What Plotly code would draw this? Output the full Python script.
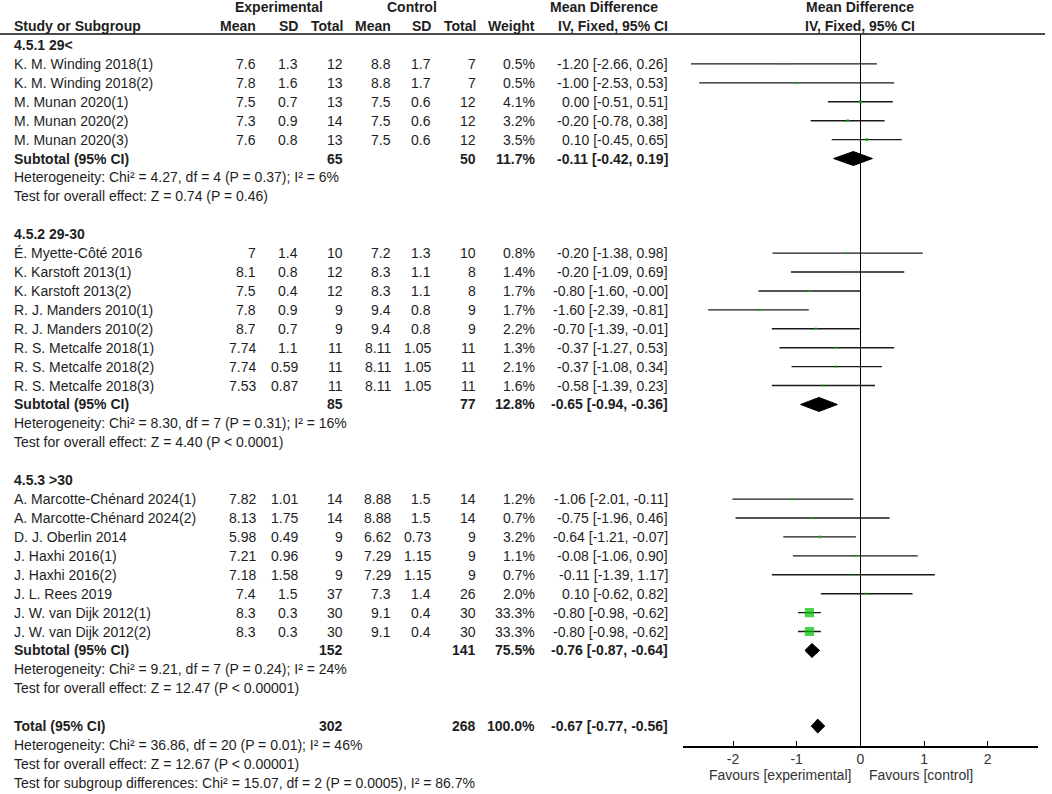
import plotly.graph_objects as go

# ---- data ----
group_labels = ["4.5.1 29&lt;", "4.5.2 29-30", "4.5.3 &gt;30"]
group_sizes = [5, 8, 8]

studies = [
    "K. M. Winding 2018(1)", "K. M. Winding 2018(2)", "M. Munan 2020(1)", "M. Munan 2020(2)", "M. Munan 2020(3)",
    "É. Myette-Côté 2016", "K. Karstoft 2013(1)", "K. Karstoft 2013(2)", "R. J. Manders 2010(1)",
    "R. J. Manders 2010(2)", "R. S. Metcalfe 2018(1)", "R. S. Metcalfe 2018(2)", "R. S. Metcalfe 2018(3)",
    "A. Marcotte-Chénard 2024(1)", "A. Marcotte-Chénard 2024(2)", "D. J. Oberlin 2014", "J. Haxhi 2016(1)",
    "J. Haxhi 2016(2)", "J. L. Rees 2019", "J. W. van Dijk 2012(1)", "J. W. van Dijk 2012(2)",
]
exp_mean = [7.6, 7.8, 7.5, 7.3, 7.6, 7, 8.1, 7.5, 7.8, 8.7, 7.74, 7.74, 7.53, 7.82, 8.13, 5.98, 7.21, 7.18, 7.4, 8.3, 8.3]
exp_sd = [1.3, 1.6, 0.7, 0.9, 0.8, 1.4, 0.8, 0.4, 0.9, 0.7, 1.1, 0.59, 0.87, 1.01, 1.75, 0.49, 0.96, 1.58, 1.5, 0.3, 0.3]
exp_n = [12, 13, 13, 14, 13, 10, 12, 12, 9, 9, 11, 11, 11, 14, 14, 9, 9, 9, 37, 30, 30]
ctl_mean = [8.8, 8.8, 7.5, 7.5, 7.5, 7.2, 8.3, 8.3, 9.4, 9.4, 8.11, 8.11, 8.11, 8.88, 8.88, 6.62, 7.29, 7.29, 7.3, 9.1, 9.1]
ctl_sd = [1.7, 1.7, 0.6, 0.6, 0.6, 1.3, 1.1, 1.1, 0.8, 0.8, 1.05, 1.05, 1.05, 1.5, 1.5, 0.73, 1.15, 1.15, 1.4, 0.4, 0.4]
ctl_n = [7, 7, 12, 12, 12, 10, 8, 8, 9, 9, 11, 11, 11, 14, 14, 9, 9, 9, 26, 30, 30]
weight = [0.5, 0.5, 4.1, 3.2, 3.5, 0.8, 1.4, 1.7, 1.7, 2.2, 1.3, 2.1, 1.6, 1.2, 0.7, 3.2, 1.1, 0.7, 2.0, 33.3, 33.3]
md = [-1.20, -1.00, 0.00, -0.20, 0.10, -0.20, -0.20, -0.80, -1.60, -0.70, -0.37, -0.37, -0.58,
      -1.06, -0.75, -0.64, -0.08, -0.11, 0.10, -0.80, -0.80]
ci_lo = [-2.66, -2.53, -0.51, -0.78, -0.45, -1.38, -1.09, -1.60, -2.39, -1.39, -1.27, -1.08, -1.39,
         -2.01, -1.96, -1.21, -1.06, -1.39, -0.62, -0.98, -0.98]
ci_hi = [0.26, 0.53, 0.51, 0.38, 0.65, 0.98, 0.69, -0.00, -0.81, -0.01, 0.53, 0.34, 0.23,
         -0.11, 0.46, -0.07, 0.90, 1.17, 0.82, -0.62, -0.62]

sub_exp_n = [65, 85, 152]
sub_ctl_n = [50, 77, 141]
sub_weight = [11.7, 12.8, 75.5]
sub_md = [-0.11, -0.65, -0.76]
sub_lo = [-0.42, -0.94, -0.87]
sub_hi = [0.19, -0.36, -0.64]
sub_het = [
    "Heterogeneity: Chi² = 4.27, df = 4 (P = 0.37); I² = 6%",
    "Heterogeneity: Chi² = 8.30, df = 7 (P = 0.31); I² = 16%",
    "Heterogeneity: Chi² = 9.21, df = 7 (P = 0.24); I² = 24%",
]
sub_test = [
    "Test for overall effect: Z = 0.74 (P = 0.46)",
    "Test for overall effect: Z = 4.40 (P &lt; 0.0001)",
    "Test for overall effect: Z = 12.47 (P &lt; 0.00001)",
]

total_exp_n, total_ctl_n, total_weight = 302, 268, 100.0
total_md, total_lo, total_hi = -0.67, -0.77, -0.56
total_het = "Heterogeneity: Chi² = 36.86, df = 20 (P = 0.01); I² = 46%"
total_test = "Test for overall effect: Z = 12.67 (P &lt; 0.00001)"
subgroup_test = "Test for subgroup differences: Chi² = 15.07, df = 2 (P = 0.0005), I² = 86.7%"

tick_vals = [-2, -1, 0, 1, 2]
tick_text = ["-2", "-1", "0", "1", "2"]

# ---- layout geometry (pixels) ----
W, H = 1052, 794
ROW0, ROWH = 45, 18.92
AX_LEFT, AX_RIGHT, AX_Y, TOP_LINE = 682.7, 1038, 745.7, 34
FONT = "Liberation Sans, Arial, sans-serif"
TXT = "#1e1e1e"

def px(x):
    return x / W

def pyp(y):
    return 1 - y / H

def py(row):
    return pyp(ROW0 + ROWH * row)

fig = go.Figure()

def txt(x, row, s, anchor="left", bold=False, size=14, color=TXT):
    if bold:
        s = "<b>" + s + "</b>"
    fig.add_annotation(x=px(x), y=py(row), xref="paper", yref="paper", text=s, showarrow=False,
                       xanchor=anchor, yanchor="middle", font=dict(family=FONT, size=size, color=color))

def fmt_ci(m, lo, hi):
    return f"{m:.2f} [{lo:.2f}, {hi:.2f}]"

# column right edges
c_em, c_es, c_en, c_cm, c_cs, c_cn, c_w, c_ci = 258, 300, 345, 393, 433, 478, 537, 670
NAME_X = 12

# headers
txt(279, -2, "Experimental", "center", True)
txt(412, -2, "Control", "center", True)
txt(604, -2, "Mean Difference", "center", True)
txt(860, -2, "Mean Difference", "center", True)
txt(NAME_X, -1, "Study or Subgroup", "left", True)
for x, s in [(c_em, "Mean"), (c_es, "SD"), (c_en, "Total"), (c_cm, "Mean"), (c_cs, "SD"),
             (c_cn, "Total"), (c_w, "Weight"), (c_ci, "IV, Fixed, 95% CI")]:
    txt(x, -1, s, "right", True)
txt(860, -1, "IV, Fixed, 95% CI", "center", True)

fig.add_shape(type="line", xref="paper", yref="paper", x0=0, x1=px(1045),
              y0=pyp(TOP_LINE), y1=pyp(TOP_LINE), line=dict(color="#111", width=1.5))

# rows
study_rows, sub_rows = [], []
row = 0
k = 0
for g, n in enumerate(group_sizes):
    txt(NAME_X, row, group_labels[g], "left", True)
    row += 1
    for _ in range(n):
        i = k
        txt(NAME_X, row, studies[i])
        txt(c_em, row, f"{exp_mean[i]:g}", "right")
        txt(c_es, row, f"{exp_sd[i]:g}", "right")
        txt(c_en, row, str(exp_n[i]), "right")
        txt(c_cm, row, f"{ctl_mean[i]:g}", "right")
        txt(c_cs, row, f"{ctl_sd[i]:g}", "right")
        txt(c_cn, row, str(ctl_n[i]), "right")
        txt(c_w, row, f"{weight[i]:.1f}%", "right")
        txt(c_ci, row, fmt_ci(md[i], ci_lo[i], ci_hi[i]), "right")
        study_rows.append(row)
        row += 1
        k += 1
    txt(NAME_X, row, "Subtotal (95% CI)", "left", True)
    txt(c_en, row, str(sub_exp_n[g]), "right", True)
    txt(c_cn, row, str(sub_ctl_n[g]), "right", True)
    txt(c_w, row, f"{sub_weight[g]:.1f}%", "right", True)
    txt(c_ci, row, fmt_ci(sub_md[g], sub_lo[g], sub_hi[g]), "right", True)
    sub_rows.append(row)
    txt(NAME_X, row + 1, sub_het[g])
    txt(NAME_X, row + 2, sub_test[g])
    row += 4

total_row = row
txt(NAME_X, total_row, "Total (95% CI)", "left", True)
txt(c_en, total_row, str(total_exp_n), "right", True)
txt(c_cn, total_row, str(total_ctl_n), "right", True)
txt(c_w, total_row, f"{total_weight:.1f}%", "right", True)
txt(c_ci, total_row, fmt_ci(total_md, total_lo, total_hi), "right", True)
txt(NAME_X, total_row + 1, total_het)
txt(NAME_X, total_row + 2, total_test)
txt(NAME_X, total_row + 3, subgroup_test)

# ---- forest panel ----
cx, cy = [], []
for lo, hi, r in zip(ci_lo, ci_hi, study_rows):
    cx += [lo, hi, None]
    cy += [r, r, None]
fig.add_trace(go.Scatter(x=cx, y=cy, mode="lines", line=dict(color="#1a1a1a", width=1.4),
                         hoverinfo="skip", showlegend=False))

sizes = [max(2.2, 9.2 * (w / 33.3) ** 0.5) for w in weight]
fig.add_trace(go.Scatter(x=md, y=study_rows, mode="markers",
                         marker=dict(symbol="square", size=sizes, color="#00c000", line=dict(width=0)),
                         showlegend=False))

HALF = 0.37
dia = list(zip(sub_md, sub_lo, sub_hi, sub_rows)) + [(total_md, total_lo, total_hi, total_row)]
for m, lo, hi, r in dia:
    fig.add_trace(go.Scatter(x=[lo, m, hi, m, lo], y=[r, r - HALF, r, r + HALF, r], mode="lines",
                             fill="toself", fillcolor="#000", line=dict(color="#000", width=1),
                             showlegend=False))

fav_row = (775 - ROW0) / ROWH
txt(853, fav_row, "Favours [experimental]", "right", color="#333")
txt(867, fav_row, "Favours [control]", "left", color="#333")

fig.update_layout(
    width=W, height=H, margin=dict(l=0, r=0, t=0, b=0),
    paper_bgcolor="white", plot_bgcolor="white", showlegend=False,
    xaxis=dict(domain=[px(AX_LEFT), px(AX_RIGHT)], range=[-2.79, 2.79],
               tickvals=tick_vals, ticktext=tick_text, ticks="inside", ticklen=5, tickwidth=1.2,
               tickcolor="#000", showline=True, linecolor="#000", linewidth=1.5,
               showgrid=False, zeroline=True, zerolinecolor="#000", zerolinewidth=1.2,
               tickfont=dict(family=FONT, size=14, color="#333")),
    yaxis=dict(domain=[pyp(AX_Y), pyp(TOP_LINE)],
               range=[(AX_Y - ROW0) / ROWH, (TOP_LINE - ROW0) / ROWH],
               showgrid=False, zeroline=False, showticklabels=False, showline=False),
)

# drop the default 8px page margin so the figure fills the window like the reference
fig.write_html("out.html", config={"displayModeBar": False},
               post_script="document.body.style.margin='0px';document.body.style.overflow='hidden';")
